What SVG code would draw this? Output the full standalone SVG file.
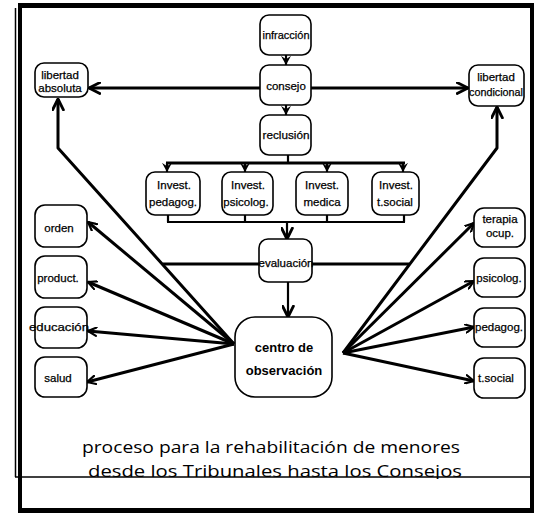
<svg xmlns="http://www.w3.org/2000/svg" width="537" height="516" viewBox="0 0 537 516">
<style>
  .box{fill:#fff;stroke:#000;stroke-width:1.6}
  .t{font-family:"Liberation Sans",Arial,sans-serif;font-size:11.5px;fill:#000;stroke:#000;stroke-width:0.25;text-anchor:middle}
  .tb{font-family:"Liberation Sans",Arial,sans-serif;font-size:13px;font-weight:bold;fill:#000;text-anchor:middle}
  .cap{font-family:"Open Sans","DejaVu Sans",sans-serif;font-size:17px;fill:#000;text-anchor:middle}
  .ln{fill:none;stroke:#000;stroke-width:3;stroke-linejoin:round}
  .bus{fill:none;stroke:#000;stroke-width:2.2}
  .fan{fill:none;stroke:#000;stroke-width:3}
  .frame{stroke:#000;fill:none}
</style>
<defs>
  <marker id="big" viewBox="0 0 12 12" refX="11" refY="6" markerWidth="13" markerHeight="13" markerUnits="userSpaceOnUse" orient="auto">
    <path d="M1,1 L11,6 L1,11" fill="none" stroke="#000" stroke-width="2.6" stroke-linecap="round" stroke-linejoin="round"/>
  </marker>
  <marker id="sm" viewBox="0 0 12 12" refX="11" refY="6" markerWidth="10" markerHeight="10" markerUnits="userSpaceOnUse" orient="auto">
    <path d="M1,1 L11,6 L1,11" fill="none" stroke="#000" stroke-width="2.6" stroke-linecap="round" stroke-linejoin="round"/>
  </marker>
  <marker id="fill" viewBox="0 0 12 12" refX="11" refY="6" markerWidth="10" markerHeight="12" markerUnits="userSpaceOnUse" orient="auto">
    <path d="M0,0 L11,6 L0,12 L4,6 z" fill="#000"/>
  </marker>
  <clipPath id="capclip"><rect x="0" y="0" width="537" height="479"/></clipPath>
</defs>

<g id="frame">
  <line class="frame" x1="20" y1="4" x2="20" y2="513" stroke-width="4"/>
  <line class="frame" x1="15.5" y1="8" x2="15.5" y2="477" stroke-width="1.5"/>
  <line class="frame" x1="18" y1="5.5" x2="534" y2="5.5" stroke-width="5"/>
  <line class="frame" x1="532" y1="4" x2="532" y2="513" stroke-width="4"/>
  <line class="frame" x1="18" y1="510.5" x2="534" y2="510.5" stroke-width="5"/>
  <line class="frame" x1="15" y1="477" x2="532" y2="477" stroke-width="1.6"/>
</g>

<g id="connectors">
  <line class="bus" x1="286" y1="55" x2="286" y2="65" marker-end="url(#fill)"/>
  <line class="bus" x1="286" y1="105" x2="286" y2="115" marker-end="url(#fill)"/>
  <line class="ln" x1="260" y1="88" x2="89" y2="88" marker-end="url(#big)"/>
  <line class="ln" x1="311" y1="88" x2="468" y2="88" marker-end="url(#big)"/>
  <line class="bus" x1="288" y1="155" x2="288" y2="163"/>
  <line class="ln" x1="166" y1="163" x2="405" y2="163"/>
  <line class="bus" x1="167" y1="163" x2="167" y2="172" marker-end="url(#fill)"/>
  <line class="bus" x1="245" y1="163" x2="245" y2="172" marker-end="url(#fill)"/>
  <line class="bus" x1="327" y1="163" x2="327" y2="172" marker-end="url(#fill)"/>
  <line class="bus" x1="403" y1="163" x2="403" y2="172" marker-end="url(#fill)"/>
  <path class="bus" d="M168,215 V222 M245,215 V222 M327,215 V222 M404,215 V222 M167,222 H405"/>
  <line class="bus" x1="287" y1="222" x2="287" y2="239" marker-end="url(#big)"/>
  <line class="ln" x1="163" y1="264" x2="259" y2="264"/>
  <line class="ln" x1="312" y1="264" x2="409" y2="264"/>
  <line class="bus" x1="288" y1="282" x2="288" y2="317" marker-end="url(#big)"/>
  <polyline class="ln" points="234,344 58,148 58,99" marker-end="url(#big)"/>
  <line class="fan" x1="234" y1="344" x2="88" y2="222" marker-end="url(#sm)"/>
  <line class="fan" x1="234" y1="344" x2="88" y2="282" marker-end="url(#sm)"/>
  <line class="fan" x1="234" y1="344" x2="88" y2="331" marker-end="url(#sm)"/>
  <line class="fan" x1="234" y1="344" x2="87" y2="382" marker-end="url(#sm)"/>
  <polyline class="ln" points="343,353 497,148 497,107" marker-end="url(#big)"/>
  <line class="fan" x1="343" y1="353" x2="474" y2="223" marker-end="url(#sm)"/>
  <line class="fan" x1="343" y1="353" x2="474" y2="281" marker-end="url(#sm)"/>
  <line class="fan" x1="343" y1="353" x2="474" y2="327" marker-end="url(#sm)"/>
  <line class="fan" x1="343" y1="353" x2="474" y2="381" marker-end="url(#sm)"/>
</g>

<g id="infraccion"><rect class="box" x="260" y="15" width="51" height="40" rx="9"/><text class="t" x="286" y="39" textLength="47" lengthAdjust="spacingAndGlyphs">infracción</text></g>
<g id="consejo"><rect class="box" x="260" y="65" width="51" height="40" rx="9"/><text class="t" x="286" y="90">consejo</text></g>
<g id="reclusion"><rect class="box" x="260" y="115" width="51" height="40" rx="9"/><text class="t" x="286" y="139" textLength="47" lengthAdjust="spacingAndGlyphs">reclusión</text></g>

<g id="libertad-absoluta"><rect class="box" x="35" y="63" width="53" height="34" rx="9"/><text class="t" x="60" y="79">libertad</text><text class="t" x="60" y="92">absoluta</text></g>
<g id="libertad-condicional"><rect class="box" x="469" y="65" width="55" height="41" rx="9"/><text class="t" x="496" y="81">libertad</text><text class="t" x="496" y="96" textLength="54" lengthAdjust="spacingAndGlyphs">condicional</text></g>

<g id="invest-pedagog"><rect class="box" x="146" y="172" width="54" height="43" rx="9"/><text class="t" x="174" y="189">Invest.</text><text class="t" x="173" y="206">pedagog.</text></g>
<g id="invest-psicolog"><rect class="box" x="222" y="172" width="51" height="43" rx="9"/><text class="t" x="248" y="189">Invest.</text><text class="t" x="246" y="206">psicolog.</text></g>
<g id="invest-medica"><rect class="box" x="296" y="172" width="52" height="43" rx="9"/><text class="t" x="322" y="189">Invest.</text><text class="t" x="322" y="206">medica</text></g>
<g id="invest-tsocial"><rect class="box" x="372" y="172" width="47" height="43" rx="9"/><text class="t" x="396" y="189">Invest.</text><text class="t" x="395" y="206">t.social</text></g>

<g id="evaluacion"><rect class="box" x="259" y="239" width="53" height="43" rx="9"/><text class="t" x="286" y="267" textLength="55" lengthAdjust="spacingAndGlyphs">evaluación</text></g>

<g id="centro"><rect class="box" x="235" y="317" width="97" height="80" rx="20"/><text class="tb" x="284" y="352">centro de</text><text class="tb" x="284" y="375">observación</text></g>

<g id="orden"><rect class="box" x="35" y="205" width="52" height="42" rx="10"/><text class="t" x="59" y="232">orden</text></g>
<g id="product"><rect class="box" x="35" y="256" width="52" height="42" rx="10"/><text class="t" x="58" y="282">product.</text></g>
<g id="educacion"><rect class="box" x="35" y="307" width="52" height="41" rx="10"/><text class="t" x="59" y="331" textLength="60" lengthAdjust="spacingAndGlyphs">educación</text></g>
<g id="salud"><rect class="box" x="35" y="357" width="52" height="40" rx="10"/><text class="t" x="58" y="382">salud</text></g>

<g id="terapia"><rect class="box" x="474" y="208" width="51" height="39" rx="10"/><text class="t" x="500" y="223">terapia</text><text class="t" x="500" y="237">ocup.</text></g>
<g id="psicolog"><rect class="box" x="474" y="258" width="51" height="39" rx="10"/><text class="t" x="499" y="282">psicolog.</text></g>
<g id="pedagog"><rect class="box" x="474" y="308" width="51" height="39" rx="10"/><text class="t" x="499" y="331">pedagog.</text></g>
<g id="tsocial"><rect class="box" x="474" y="358" width="51" height="40" rx="10"/><text class="t" x="496" y="382">t.social</text></g>

<g id="caption" clip-path="url(#capclip)">
  <text class="cap" x="271" y="453" textLength="378" lengthAdjust="spacingAndGlyphs">proceso para la rehabilitación de menores</text>
  <text class="cap" x="275" y="477" textLength="374" lengthAdjust="spacingAndGlyphs">desde los Tribunales hasta los Consejos</text>
</g>
</svg>
